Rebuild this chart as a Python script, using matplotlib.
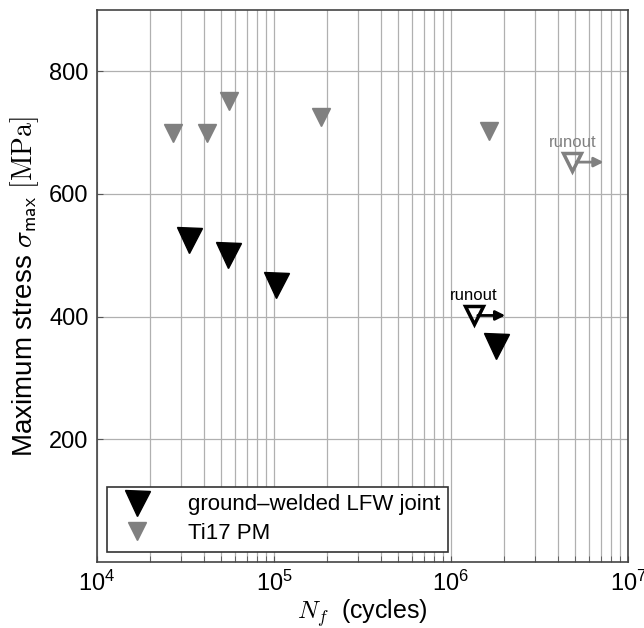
import matplotlib
matplotlib.use('Agg')
import matplotlib.pyplot as plt
from matplotlib.ticker import LogLocator, FixedLocator, NullFormatter

plt.rcParams['font.family'] = ['Liberation Sans', 'DejaVu Sans']
plt.rcParams['mathtext.fontset'] = 'cm'

# ground-welded LFW joint, broken specimens
lfw_cycles = [3.3e4, 5.5e4, 1.03e5, 1.8e6]
lfw_stress = [525, 500, 452, 352]
# runout specimen (did not fail)
lfw_runout_cycles = [1.35e6]
lfw_runout_stress = [402]

# Ti17 parent material
pm_cycles = [2.7e4, 4.2e4, 5.6e4, 1.85e5, 1.65e6]
pm_stress = [700, 700, 752, 726, 702]
pm_runout_cycles = [4.85e6]
pm_runout_stress = [652]

grey = '#808080'

fig = plt.figure(figsize=(6.44, 6.28), dpi=100)
ax = fig.add_axes([97 / 644, 66 / 628, 531 / 644, 552 / 628])

ax.set_xscale('log')
ax.set_xlim(1e4, 1e7)
ax.set_ylim(0, 900)

# grid on every decade sub-division, horizontal only at labelled ticks
ax.xaxis.set_major_locator(LogLocator(base=10, numticks=10))
ax.xaxis.set_minor_locator(LogLocator(base=10, subs=range(2, 10), numticks=20))
ax.xaxis.set_minor_formatter(NullFormatter())
ax.yaxis.set_major_locator(FixedLocator([200, 400, 600, 800]))
ax.grid(True, which='both', axis='x', color='#b0b0b0', lw=0.9)
ax.grid(True, which='major', axis='y', color='#b0b0b0', lw=0.9)
ax.set_axisbelow(True)
ax.tick_params(which='both', direction='in', labelsize=17, length=4,
               color='#555555', pad=6)
for s in ax.spines.values():
    s.set_color('#444444')
    s.set_linewidth(1.2)

ax.plot(lfw_cycles, lfw_stress, 'v', color='black', ms=18, ls='none',
        label='ground\u2013welded LFW joint')
ax.plot(pm_cycles, pm_stress, 'v', color=grey, ms=13.5, ls='none',
        label='Ti17 PM')

# runouts: open triangles with an arrow pointing to longer life
for xs, ys, c in [(lfw_runout_cycles, lfw_runout_stress, 'black'),
                  (pm_runout_cycles, pm_runout_stress, grey)]:
    ax.plot(xs, ys, 'v', mfc='none', mec=c, mew=2.5, ms=13, ls='none')
    for x, y in zip(xs, ys):
        ax.annotate('', xy=(x * 1.5, y), xytext=(x * 1.05, y),
                    arrowprops=dict(arrowstyle='-|>', color=c, lw=2,
                                    mutation_scale=14, shrinkA=0, shrinkB=0))
        ax.text(x, y + 20, 'runout', color=c, ha='center', va='bottom',
                fontsize=12)

ax.set_xlabel(r'$N_f$  (cycles)', fontsize=18, labelpad=1)
ax.set_ylabel(r'Maximum stress $\sigma_{\mathsf{max}}$ $[\mathrm{MPa}]$',
              fontsize=20, labelpad=6)

leg = ax.legend(loc='lower left', fontsize=16, fancybox=False, framealpha=1,
                edgecolor='#333333', borderaxespad=0.45, handletextpad=1.3,
                labelspacing=0.35, borderpad=0.35)
leg.get_frame().set_linewidth(1.2)

fig.savefig('out.png', dpi=100)
